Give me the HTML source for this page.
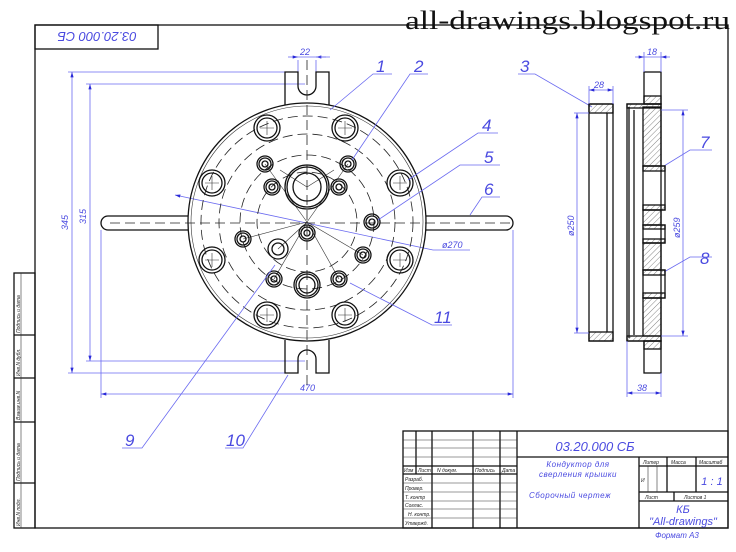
<!DOCTYPE html>
<html><head><meta charset="utf-8"><style>
html,body{margin:0;padding:0;background:#fff;}
svg{display:block}
.k{stroke:#111;fill:none;stroke-width:1.3}
.t{stroke:#333;fill:none;stroke-width:.6}
.b{stroke:#6a6af0;fill:none;stroke-width:.8}
.d{stroke:#222;fill:none;stroke-width:.8;stroke-dasharray:10 5}
.bt{fill:#4a4ae0;font-family:"Liberation Sans",sans-serif;font-style:italic}
.st{fill:#222;font-family:"Liberation Sans",sans-serif;font-style:italic;font-size:5px}
</style></head><body>
<svg width="736" height="552" viewBox="0 0 736 552" xmlns="http://www.w3.org/2000/svg">
<defs>
<pattern id="h" width="4" height="4" patternUnits="userSpaceOnUse" patternTransform="rotate(45)"><line x1="0" y1="0" x2="0" y2="4" stroke="#333" stroke-width=".6"/></pattern>
<marker id="a" viewBox="0 0 10 6" refX="10" refY="3" markerWidth="7" markerHeight="4" orient="auto-start-reverse"><path d="M0,0L10,3L0,6z" fill="#2a2ad8"/></marker>
<g id="bh" class="k" stroke-width="1.1"><circle r="13"/><circle r="10"/><path d="M-7,0H7M0,-7V7" class="t"/></g>
<g id="sh" class="k" stroke-width="1.1"><circle r="8"/><circle r="6"/><circle r="3"/></g>
</defs>
<text x="405" y="29" font-family="Liberation Serif,serif" font-size="26" fill="#111" textLength="325" lengthAdjust="spacingAndGlyphs">all-drawings.blogspot.ru</text>
<!-- frame -->
<rect x="35" y="25" width="693" height="503" class="k"/>
<rect x="35" y="25" width="123" height="24" class="k"/>
<text x="97" y="42" class="bt" font-size="13" text-anchor="middle" transform="rotate(180 97 37)">03.20.000 СБ</text>
<rect x="14" y="273" width="21" height="255" class="k"/>
<line x1="14" y1="335" x2="35" y2="335" class="k"/><line x1="14" y1="378" x2="35" y2="378" class="k"/>
<line x1="14" y1="422" x2="35" y2="422" class="k"/><line x1="14" y1="483" x2="35" y2="483" class="k"/>
<line x1="21" y1="273" x2="21" y2="528" class="t"/>
<g class="st" font-size="6"><text transform="translate(20,333) rotate(-90)">Подпись и дата</text>
<text transform="translate(20,376) rotate(-90)">Инв.N дубл.</text>
<text transform="translate(20,420) rotate(-90)">Взаим.инв.N</text>
<text transform="translate(20,481) rotate(-90)">Подпись и дата</text>
<text transform="translate(20,526) rotate(-90)">Инв.N подл.</text></g>
<!-- title block -->
<g class="k"><rect x="403" y="431" width="325" height="97"/>
<line x1="517" y1="431" x2="517" y2="528"/><line x1="517" y1="457" x2="728" y2="457"/>
<line x1="639" y1="457" x2="639" y2="528"/><line x1="639" y1="466" x2="728" y2="466"/>
<line x1="639" y1="492" x2="728" y2="492"/><line x1="639" y1="501" x2="728" y2="501"/>
<line x1="667" y1="457" x2="667" y2="492"/><line x1="696" y1="457" x2="696" y2="492"/>
<line x1="674" y1="492" x2="674" y2="501"/>
<line x1="416" y1="431" x2="416" y2="474"/><line x1="432" y1="431" x2="432" y2="528"/>
<line x1="473" y1="431" x2="473" y2="528"/><line x1="500" y1="431" x2="500" y2="528"/>
<line x1="403" y1="474" x2="517" y2="474"/><line x1="403" y1="466" x2="517" y2="466"/></g>
<g class="t"><line x1="403" y1="440" x2="517" y2="440"/><line x1="403" y1="448" x2="517" y2="448"/><line x1="403" y1="457" x2="517" y2="457"/>
<line x1="403" y1="483" x2="517" y2="483"/><line x1="403" y1="492" x2="517" y2="492"/><line x1="403" y1="501" x2="517" y2="501"/>
<line x1="403" y1="509" x2="517" y2="509"/><line x1="403" y1="518" x2="517" y2="518"/>
<line x1="648" y1="466" x2="648" y2="492"/><line x1="657" y1="466" x2="657" y2="492"/></g>
<g class="st"><text x="404" y="472">Изм</text><text x="418" y="472">Лист</text><text x="437" y="472">N докум.</text><text x="475" y="472">Подпись</text><text x="502" y="472">Дата</text>
<text x="405" y="481">Разраб.</text><text x="405" y="490">Провер.</text><text x="405" y="499">Т. контр</text><text x="405" y="507">Соглас.</text><text x="408" y="516">Н. контр.</text><text x="405" y="525">Утвержд.</text>
<text x="643" y="464">Литер</text><text x="671" y="464">Масса</text><text x="699" y="464">Масштаб</text>
<text x="645" y="499">Лист</text><text x="684" y="499">Листов 1</text><text x="641" y="482">И</text></g>
<text x="595" y="451" class="bt" font-size="13" text-anchor="middle">03.20.000  СБ</text>
<text x="578" y="467" class="bt" font-size="8" text-anchor="middle" letter-spacing=".5">Кондуктор для</text>
<text x="578" y="477" class="bt" font-size="8" text-anchor="middle" letter-spacing=".5">сверления крышки</text>
<text x="570" y="498" class="bt" font-size="8" text-anchor="middle" letter-spacing=".5">Сборочный чертеж</text>
<text x="712" y="485" class="bt" font-size="11" text-anchor="middle">1 : 1</text>
<text x="683" y="513" class="bt" font-size="11" text-anchor="middle">КБ</text>
<text x="683" y="525" class="bt" font-size="11" text-anchor="middle">"All-drawings"</text>
<text x="677" y="538" class="bt" font-size="8" text-anchor="middle">Формат А3</text>
<!-- dimension lines main view -->
<g class="b">
<line x1="68" y1="72" x2="295" y2="72"/><line x1="86" y1="84" x2="305" y2="84"/>
<line x1="68" y1="373" x2="285" y2="373"/><line x1="86" y1="361" x2="305" y2="361"/>
<line x1="72" y1="72" x2="72" y2="373" marker-start="url(#a)" marker-end="url(#a)"/>
<line x1="90" y1="84" x2="90" y2="361" marker-start="url(#a)" marker-end="url(#a)"/>
<line x1="101" y1="230" x2="101" y2="398"/><line x1="513" y1="230" x2="513" y2="398"/>
<line x1="101" y1="394" x2="513" y2="394" marker-start="url(#a)" marker-end="url(#a)"/>
<line x1="298" y1="60" x2="298" y2="72"/><line x1="316" y1="60" x2="316" y2="72"/>
<line x1="288" y1="57" x2="298" y2="57" marker-end="url(#a)"/><line x1="326" y1="57" x2="316" y2="57" marker-end="url(#a)"/><line x1="298" y1="57" x2="330" y2="57"/>
<line x1="175" y1="195" x2="433" y2="250" marker-start="url(#a)"/><line x1="433" y1="250" x2="470" y2="250"/>
</g>
<g class="bt" font-size="9"><text x="300" y="55">22</text><text x="442" y="248">ø270</text><text x="300" y="391">470</text>
<text transform="translate(68,230) rotate(-90)">345</text><text transform="translate(86,224) rotate(-90)">315</text></g>
<!-- main body -->
<g class="k">
<path d="M285,105 V72 H298 V86 A9,9 0 0 0 316,86 V72 H329 V105"/>
<path d="M285,340 V373 H298 V359 A9,9 0 0 1 316,359 V373 H329 V340"/>
<path d="M188,216 H108 A7,7 0 0 0 108,230 H188"/>
<path d="M426,216 H506 A7,7 0 0 1 506,230 H426"/>
<circle cx="307" cy="222" r="119"/>
<circle cx="307" cy="222" r="116" class="t"/>
</g>
<g class="d"><circle cx="307" cy="222" r="106"/><circle cx="307" cy="222" r="88"/><circle cx="307" cy="222" r="67"/><circle cx="307" cy="222" r="50"/>
<line x1="110" y1="223" x2="510" y2="223"/><line x1="307" y1="60" x2="307" y2="385"/></g>
<g class="t"><line x1="307" y1="222" x2="265" y2="164"/><line x1="307" y1="222" x2="348" y2="164"/>
<line x1="307" y1="187" x2="280" y2="170"/><line x1="307" y1="187" x2="334" y2="170"/>
<line x1="307" y1="222" x2="243" y2="239"/><line x1="307" y1="222" x2="363" y2="255"/><line x1="307" y1="222" x2="274" y2="279"/><line x1="307" y1="222" x2="339" y2="279"/><line x1="307" y1="222" x2="278" y2="249"/></g>
<use href="#bh" x="267" y="128"/><use href="#bh" x="345" y="128"/><use href="#bh" x="212" y="183"/><use href="#bh" x="400" y="183"/>
<use href="#bh" x="212" y="260"/><use href="#bh" x="400" y="260"/><use href="#bh" x="267" y="315"/><use href="#bh" x="345" y="315"/>
<g class="k" stroke-width="1.1">
<circle cx="307" cy="187" r="22"/><circle cx="307" cy="187" r="20"/><circle cx="307" cy="187" r="14"/>
<circle cx="307" cy="285" r="13"/><circle cx="307" cy="285" r="8"/><circle cx="307" cy="285" r="11"/>
<circle cx="278" cy="249" r="10"/><circle cx="278" cy="249" r="6"/>
</g>
<use href="#sh" x="265" y="164"/><use href="#sh" x="348" y="164"/><use href="#sh" x="272" y="187"/><use href="#sh" x="339" y="187"/>
<use href="#sh" x="372" y="222"/><use href="#sh" x="307" y="233"/><use href="#sh" x="243" y="239"/><use href="#sh" x="363" y="255"/>
<use href="#sh" x="274" y="279"/><use href="#sh" x="339" y="279"/>
<!-- leaders -->
<g class="b">
<path d="M330,110 L373,74 H392"/><path d="M352,160 L410,74 H428"/><path d="M408,180 L478,133 H498"/>
<path d="M378,220 L460,165 H500"/><path d="M470,215 L482,197 H500"/>
<path d="M350,283 L432,325 H452"/><path d="M275,265 L142,448 H122"/><path d="M288,375 L243,448 H225"/>
<path d="M592,107 L535,74 H518"/><path d="M664,166 L690,150 H712"/><path d="M664,272 L690,257 H712"/>
</g>
<g class="bt" font-size="17"><text x="376" y="72">1</text><text x="414" y="72">2</text><text x="520" y="72">3</text><text x="482" y="131">4</text>
<text x="484" y="163">5</text><text x="484" y="195">6</text><text x="700" y="148">7</text><text x="700" y="264">8</text>
<text x="125" y="446">9</text><text x="226" y="446">10</text><text x="434" y="323">11</text></g>
<!-- side view part 3 -->
<g class="k" stroke-width="1.1">
<rect x="589" y="104" width="24" height="237"/>
<rect x="589" y="104" width="24" height="9" fill="url(#h)"/><rect x="589" y="332" width="24" height="9" fill="url(#h)"/>
<line x1="607" y1="113" x2="607" y2="332"/>
<rect x="627" y="104" width="34" height="237"/>
<line x1="629" y1="107" x2="629" y2="338"/><line x1="634" y1="110" x2="634" y2="335"/>
<rect x="644" y="72" width="17" height="32"/><rect x="644" y="96" width="17" height="8" fill="url(#h)"/>
<rect x="644" y="341" width="17" height="32"/><rect x="644" y="341" width="17" height="8" fill="url(#h)"/>
<rect x="643" y="107" width="18" height="59" fill="url(#h)"/><rect x="643" y="210" width="18" height="15" fill="url(#h)"/>
<rect x="643" y="243" width="18" height="27" fill="url(#h)"/><rect x="643" y="298" width="18" height="38" fill="url(#h)"/>
<rect x="627" y="104" width="34" height="4" fill="url(#h)"/><rect x="627" y="336" width="34" height="5" fill="url(#h)"/>
<rect x="643" y="166" width="22" height="44"/><rect x="643" y="166" width="22" height="5" fill="url(#h)"/><rect x="643" y="205" width="22" height="5" fill="url(#h)"/>
<rect x="643" y="225" width="22" height="18"/><rect x="643" y="225" width="22" height="4" fill="url(#h)"/><rect x="643" y="239" width="22" height="4" fill="url(#h)"/>
<rect x="643" y="270" width="22" height="28"/><rect x="643" y="270" width="22" height="5" fill="url(#h)"/><rect x="643" y="293" width="22" height="5" fill="url(#h)"/>
</g>
<g class="b">
<line x1="589" y1="86" x2="589" y2="104"/><line x1="613" y1="86" x2="613" y2="104"/><line x1="589" y1="90" x2="613" y2="90" marker-start="url(#a)" marker-end="url(#a)"/>
<line x1="644" y1="52" x2="644" y2="72"/><line x1="661" y1="52" x2="661" y2="72"/>
<line x1="635" y1="57" x2="644" y2="57" marker-end="url(#a)"/><line x1="670" y1="57" x2="661" y2="57" marker-end="url(#a)"/><line x1="644" y1="57" x2="661" y2="57"/>
<line x1="627" y1="341" x2="627" y2="397"/><line x1="661" y1="373" x2="661" y2="397"/>
<line x1="627" y1="393" x2="661" y2="393" marker-start="url(#a)" marker-end="url(#a)"/>
<line x1="574" y1="113" x2="589" y2="113"/><line x1="574" y1="333" x2="589" y2="333"/>
<line x1="577" y1="113" x2="577" y2="333" marker-start="url(#a)" marker-end="url(#a)"/>
<line x1="661" y1="110" x2="688" y2="110"/><line x1="661" y1="336" x2="688" y2="336"/>
<line x1="683" y1="110" x2="683" y2="336" marker-start="url(#a)" marker-end="url(#a)"/>
</g>
<g class="bt" font-size="9"><text x="594" y="88">28</text><text x="647" y="55">18</text><text x="637" y="391">38</text>
<text transform="translate(574,236) rotate(-90)">ø250</text><text transform="translate(680,238) rotate(-90)">ø259</text></g>
</svg>
</body></html>
